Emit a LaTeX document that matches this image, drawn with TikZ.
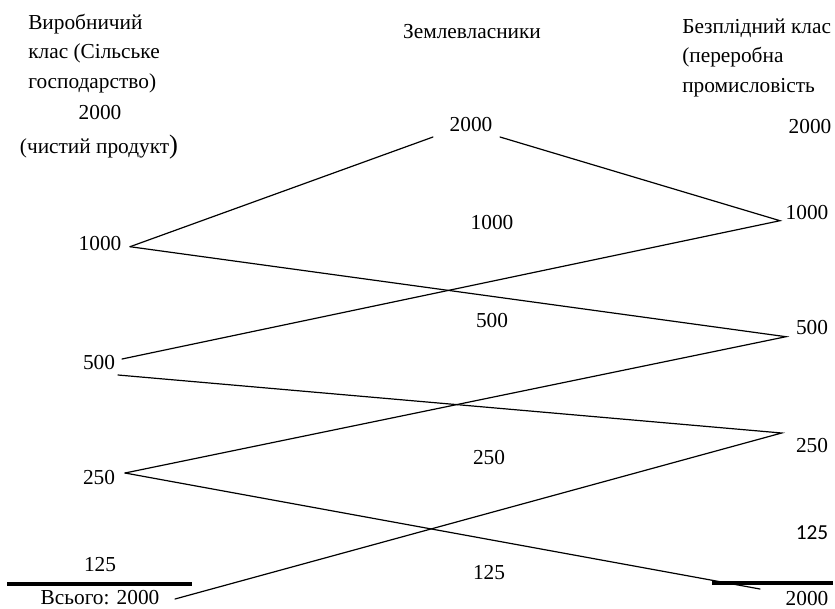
\documentclass[tikz,border=0pt]{standalone}
\usepackage{fontspec}
\setmainfont{Liberation Serif}
\newfontfamily\carlito{Carlito}
\usetikzlibrary{positioning}

\tikzset{
  lbl/.style={inner sep=0pt, font=\fontsize{16}{22.1}\selectfont},
  flow/.style={line width=0.9pt, line cap=round},
  total/.style={line width=2.4pt},
}

\begin{document}
\begin{tikzpicture}[x=0.75pt,y=-0.75pt]
	\useasboundingbox (0,0) rectangle (835,608);
	
	% column heads (base = last line)
	\node[lbl, anchor=base west, align=left] (hprod) at (28,88) {Виробничий\\клас (Сільське\\господарство)};
	\node[lbl] (hland) at (472,32) {Землевласники};
	\node[lbl, anchor=base west, align=left] (hster) at (682,92) {Безплідний клас\\(переробна\\промисловість};
	
	% producing class
	\node[lbl] (p2000) at (100,113) {2000};
	\node[lbl] (pnet) at (99,147) {(чистий продукт{\fontsize{20}{20}\selectfont )}};
	\node[lbl] (p1000) at (100,244) {1000};
	\node[lbl] (p500) at (99,362) {500};
	\node[lbl] (p250) at (99,477) {250};
	\node[lbl] (p125) at (100,565) {125};
	\node[lbl] (psum) at (100,598) {Всього: 2000};
	
	% landowners
	\node[lbl] (m2000) at (471,125) {2000};
	\node[lbl] (m1000) at (492,223) {1000};
	\node[lbl] (m500) at (492,321) {500};
	\node[lbl] (m250) at (489,457) {250};
	\node[lbl] (m125) at (489,573) {125};
	
	% sterile class
	\node[lbl] (s2000) at (810,127) {2000};
	\node[lbl] (s1000) at (807,213) {1000};
	\node[lbl] (s500) at (812,328) {500};
	\node[lbl] (s250) at (812,445) {250};
	\node[lbl, font=\carlito\fontsize{16}{18}\selectfont] (s125) at (812,533) {125};
	\node[lbl] (ssum) at (807,598) {2000};
	
	% line ends
	\coordinate (a1) at (130,246.7);
	\coordinate (a2) at (122,359);
	\coordinate (a3) at (118,375);
	\coordinate (a4) at (125,473);
	\coordinate (a5) at (175,599);
	\coordinate (b1) at (433,137);
	\coordinate (b2) at (500,137);
	\coordinate (c1) at (780,220.7);
	\coordinate (c2) at (786,336.7);
	\coordinate (c3) at (781.7,433);
	\coordinate (c4) at (760,589);
	
	\draw[flow] (a1) -- (b1);
	\draw[flow] (b2) -- (c1) -- (a2);
	\draw[flow] (a1) -- (c2) -- (a4);
	\draw[flow] (a3) -- (c3) -- (a5);
	\draw[flow] (a4) -- (c4);
	
	% totals
	\coordinate (r1) at (7,584);
	\coordinate (r2) at (192,584);
	\coordinate (r3) at (712,583);
	\coordinate (r4) at (833,583);
	\draw[total] (r1) -- (r2);
	\draw[total] (r3) -- (r4);
\end{tikzpicture}
\end{document}
